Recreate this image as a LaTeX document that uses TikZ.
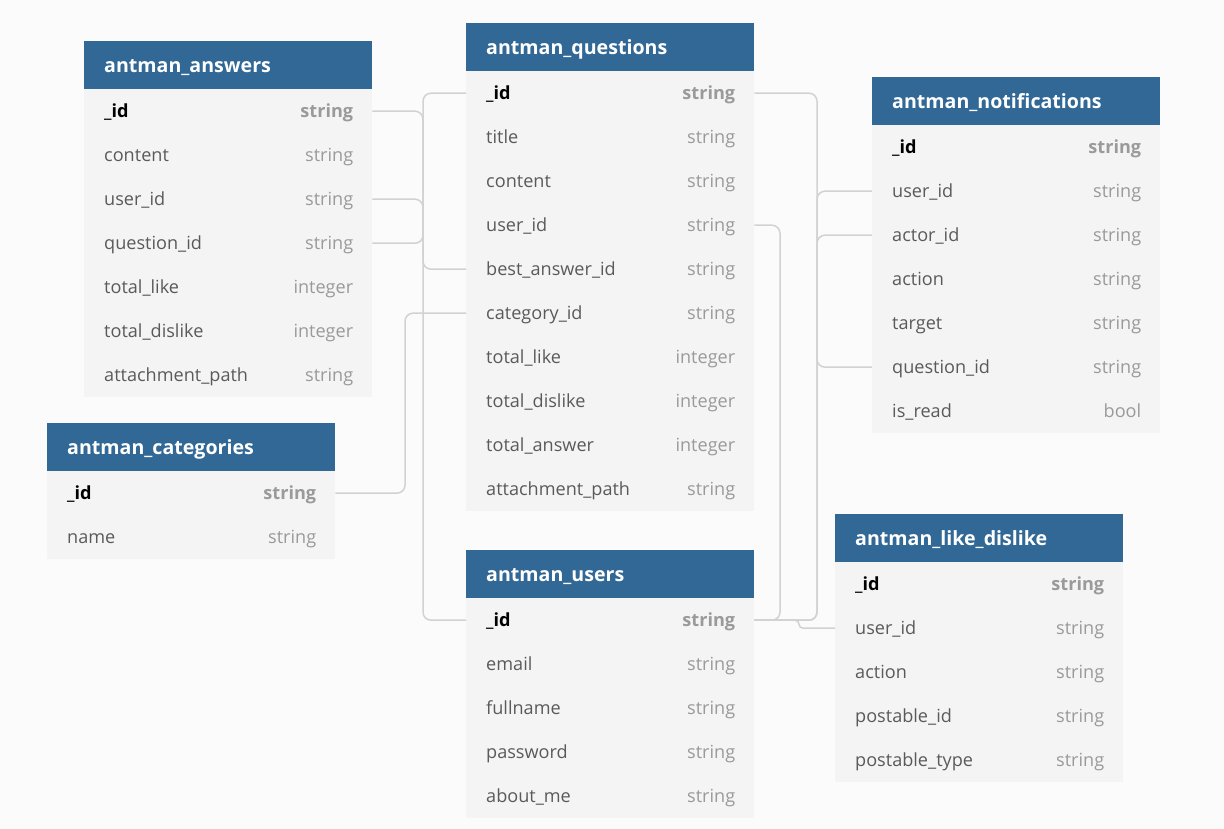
\documentclass[tikz,border=0pt]{standalone}
\usepackage{fontspec}
\setmainfont{Open Sans}
\usepackage{xcolor}
\usetikzlibrary{calc}

\definecolor{hdrblue}{HTML}{316896}
\definecolor{bodygray}{HTML}{F4F4F4}
\definecolor{pagegray}{HTML}{FBFBFB}
\definecolor{linegray}{HTML}{D2D2D2}
\definecolor{namegray}{HTML}{5A5A5A}
\definecolor{typegray}{HTML}{9A9A9A}

\tikzset{
  tblhead/.style={anchor=north west, fill=hdrblue, text=white,
    minimum width=288pt, minimum height=48pt, inner sep=0pt},
  tblrow/.style={anchor=north west, fill=bodygray,
    minimum width=288pt, minimum height=44pt, inner sep=0pt},
  fldname/.style={anchor=base west, inner sep=0pt, text=namegray,
    font=\fontsize{18.1}{20}\selectfont},
  fldtype/.style={anchor=base east, inner sep=0pt, text=typegray,
    font=\fontsize{18.1}{20}\selectfont},
  pkname/.style={fldname, text=black, font=\bfseries\fontsize{18.1}{20}\selectfont},
  pktype/.style={fldtype, font=\bfseries\fontsize{18.1}{20}\selectfont},
  relline/.style={draw=linegray, line width=1.5pt, rounded corners=8pt},
}

% one table: name, left x, top y, title, field/type list
\newcommand{\ertable}[5]{%
  \node[tblhead] (#1-h) at (#2,#3) {};
  \node[anchor=base west, inner sep=0pt, text=white,
    font=\bfseries\fontsize{19.6}{22}\selectfont]
    (#1-t) at ($(#1-h.west)+(20,7)$) {#4};
  \foreach \fname/\ftype [count=\i] in {#5} {
    \pgfmathsetmacro{\rowy}{#3+48+44*(\i-1)}
    \node[tblrow] (#1-\i) at (#2,\rowy) {};
    \ifnum\i=1
      \node[pkname] at ($(#1-\i.west)+(20,6.5)$) {\fname};
      \node[pktype] at ($(#1-\i.east)+(-19,6.5)$) {\ftype};
    \else
      \node[fldname] at ($(#1-\i.west)+(20,6.5)$) {\fname};
      \node[fldtype] at ($(#1-\i.east)+(-19,6.5)$) {\ftype};
    \fi
  }
}

\begin{document}
\begin{tikzpicture}[x=1pt,y=-1pt]

% page
\fill[pagegray] (0,0) rectangle (1224,829);
\useasboundingbox (0,0) rectangle (1224,829);

% tables
\ertable{ans}{84}{41}{antman\_answers}{\_id/string, content/string,
  user\_id/string, question\_id/string, total\_like/integer,
  total\_dislike/integer, attachment\_path/string}

\ertable{q}{466}{23}{antman\_questions}{\_id/string, title/string,
  content/string, user\_id/string, best\_answer\_id/string,
  category\_id/string, total\_like/integer, total\_dislike/integer,
  total\_answer/integer, attachment\_path/string}

\ertable{cat}{47}{423}{antman\_categories}{\_id/string, name/string}

\ertable{u}{466}{550}{antman\_users}{\_id/string, email/string,
  fullname/string, password/string, about\_me/string}

\ertable{n}{872}{77}{antman\_notifications}{\_id/string, user\_id/string,
  actor\_id/string, action/string, target/string,
  question\_id/string, is\_read/bool}

\ertable{ld}{835}{514}{antman\_like\_dislike}{\_id/string, user\_id/string,
  action/string, postable\_id/string, postable\_type/string}

% vertical runs of the connectors
\coordinate (busL) at (423,0);
\coordinate (busC) at (405,0);
\coordinate (busQ) at (780,0);
\coordinate (busR) at (817,0);
\coordinate (busD) at (799,0);

% left side
\draw[relline] (ans-4.east) -- (ans-4.east -| busL) |- (q-1.west);
\draw[relline] (q-5.west) -- (q-5.west -| busL) |- (ans-1.east);
\draw[relline] (ans-3.east) -- (ans-3.east -| busL) |- (u-1.west);
\draw[relline] (cat-1.east) -- (cat-1.east -| busC) |- (q-6.west);

% right side
\draw[relline] (n-6.west) -- (n-6.west -| busR) |- (q-1.east);
\draw[relline] (n-2.west) -- (n-2.west -| busR) |- (u-1.east);
\draw[relline] (n-3.west) -- (n-3.west -| busR) |- (u-1.east);
\draw[relline] (q-4.east) -- (q-4.east -| busQ) |- (u-1.east);
\draw[relline, rounded corners=4pt] (ld-2.west) -- (ld-2.west -| busD) |- (u-1.east);

\end{tikzpicture}
\end{document}
